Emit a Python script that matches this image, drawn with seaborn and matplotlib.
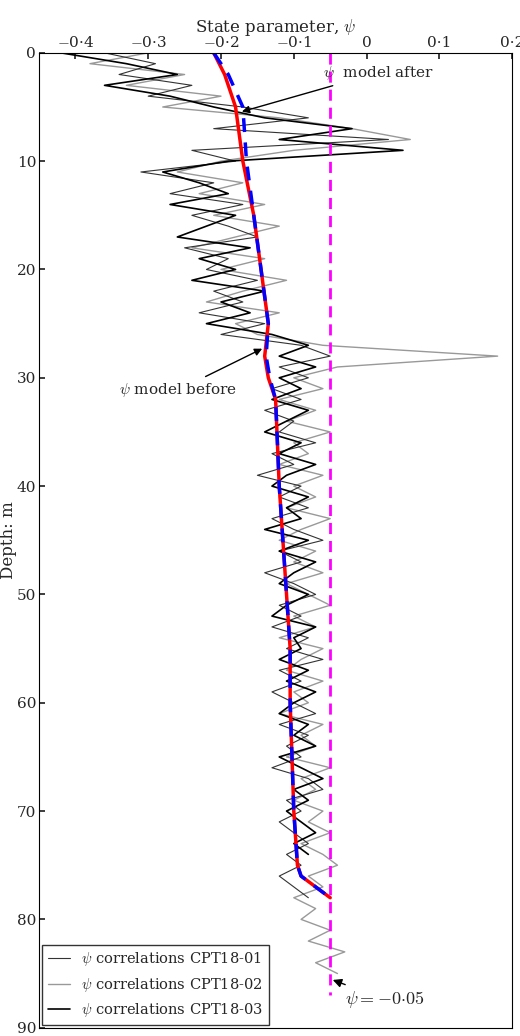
import numpy as np
import pandas as pd
import matplotlib
matplotlib.use("Agg")
import matplotlib.pyplot as plt
import seaborn as sns

sns.set_theme(style="white")
plt.rcParams['font.family'] = ['DejaVu Serif']
plt.rcParams['mathtext.fontset'] = 'cm'

cpt01 = [-0.36,-0.29,-0.34,-0.24,-0.30,-0.17,-0.08,-0.21,0.03,-0.24,-0.18,-0.31,-0.21,-0.27,-0.17,-0.24,-0.19,-0.15,-0.25,-0.19,
         -0.22,-0.15,-0.21,-0.17,-0.23,-0.14,-0.20,-0.09,-0.05,-0.12,-0.08,-0.13,-0.09,-0.14,-0.10,-0.12,-0.07,-0.13,-0.10,-0.15,
         -0.09,-0.12,-0.08,-0.13,-0.10,-0.06,-0.12,-0.09,-0.14,-0.10,-0.07,-0.12,-0.09,-0.13,-0.08,-0.11,-0.06,-0.12,-0.09,-0.13,
         -0.10,-0.07,-0.12,-0.08,-0.11,-0.09,-0.13,-0.08,-0.06,-0.11,-0.09,-0.12,-0.10,-0.08,-0.11,-0.09,-0.12,-0.10,-0.08]
cpt02 = [-0.30,-0.38,-0.25,-0.33,-0.20,-0.28,-0.12,-0.02,0.06,-0.10,-0.20,-0.26,-0.17,-0.23,-0.14,-0.21,-0.12,-0.18,-0.24,-0.14,
         -0.20,-0.11,-0.17,-0.22,-0.12,-0.18,-0.15,-0.06,0.18,-0.04,-0.10,-0.06,-0.12,-0.07,-0.11,-0.05,-0.10,-0.08,-0.12,-0.06,
         -0.10,-0.07,-0.11,-0.05,-0.09,-0.12,-0.07,-0.10,-0.06,-0.11,-0.08,-0.05,-0.10,-0.07,-0.12,-0.06,-0.09,-0.11,-0.06,-0.10,
         -0.08,-0.12,-0.06,-0.09,-0.07,-0.11,-0.05,-0.09,-0.07,-0.10,-0.06,-0.08,-0.05,-0.09,-0.06,-0.04,-0.08,-0.06,-0.10,-0.07,
         -0.09,-0.05,-0.08,-0.03,-0.07,-0.04]
cpt03 = [-0.42,-0.33,-0.26,-0.36,-0.27,-0.21,-0.14,-0.02,-0.12,0.05,-0.19,-0.28,-0.23,-0.19,-0.27,-0.18,-0.22,-0.26,-0.16,-0.23,
         -0.18,-0.24,-0.14,-0.20,-0.16,-0.22,-0.13,-0.08,-0.12,-0.07,-0.12,-0.09,-0.13,-0.08,-0.11,-0.14,-0.09,-0.12,-0.07,-0.11,
         -0.13,-0.08,-0.11,-0.09,-0.14,-0.08,-0.12,-0.07,-0.10,-0.12,-0.08,-0.11,-0.13,-0.07,-0.10,-0.09,-0.12,-0.08,-0.11,-0.07,
         -0.10,-0.12,-0.08,-0.10,-0.07,-0.12,-0.09,-0.06,-0.10,-0.08,-0.11,-0.09,-0.07,-0.10,-0.08]
model_depth  = [0, 2, 5, 10, 15, 20, 25, 28, 30, 32, 40, 45, 50, 55, 60, 70, 75, 76, 78]
model_before = [-0.21, -0.195, -0.18, -0.17, -0.155, -0.145, -0.135, -0.14, -0.135, -0.125, -0.12, -0.115, -0.11, -0.105, -0.105, -0.10, -0.095, -0.09, -0.05]
model_after  = [-0.21, -0.19, -0.17, -0.165, -0.155, -0.145, -0.135, -0.138, -0.133, -0.125, -0.12, -0.115, -0.11, -0.105, -0.105, -0.10, -0.095, -0.09, -0.05]
xticks = [-0.4, -0.3, -0.2, -0.1, 0, 0.1, 0.2]
xticklabels = ["$-$0·4", "$-$0·3", "$-$0·2", "$-$0·1", "0", "0·1", "0·2"]

fig = plt.figure(figsize=(5.2, 10.36), dpi=100)
ax = fig.add_axes([0.075, 0.008, 0.91, 0.941])

def df(v): return pd.DataFrame({"psi": v, "depth": np.arange(len(v)) * 1.0})
sns.lineplot(data=df(cpt02), x="psi", y="depth", sort=False, estimator=None, color="#999999", lw=1.0, ax=ax, label=r"$\psi$ correlations CPT18-02")
sns.lineplot(data=df(cpt01), x="psi", y="depth", sort=False, estimator=None, color="#333333", lw=0.8, ax=ax, label=r"$\psi$ correlations CPT18-01")
sns.lineplot(data=df(cpt03), x="psi", y="depth", sort=False, estimator=None, color="black", lw=1.2, ax=ax, label=r"$\psi$ correlations CPT18-03")
ax.plot(model_before, model_depth, color="red", lw=2.5)
ax.plot(model_after, model_depth, color="blue", lw=2.5, ls=(0, (4, 3)))
ax.plot([-0.05, -0.05], [0, 87], color="magenta", lw=2, ls=(0, (4, 2.5)))

h, l = ax.get_legend_handles_labels()
order = [1, 0, 2]
ax.legend([h[i] for i in order], [l[i] for i in order], loc="lower left", fontsize=10.5,
          frameon=True, fancybox=False, edgecolor="black", borderaxespad=0.2, handlelength=1.5)

ax.set_xlim(-0.45, 0.2)
ax.set_ylim(90, 0)
ax.xaxis.tick_top(); ax.xaxis.set_label_position("top")
ax.set_xticks(xticks); ax.set_xticklabels(xticklabels, fontsize=11)
ax.set_yticks(range(0, 91, 10)); ax.tick_params(labelsize=11, direction="in", length=4, pad=2)
ax.tick_params(axis="y", left=True); ax.tick_params(axis="x", top=True)
ax.set_xlabel(r"State parameter, $\psi$", fontsize=12, labelpad=2)
ax.set_ylabel("Depth: m", fontsize=12, labelpad=0)
for s in ax.spines.values(): s.set_color("black"); s.set_linewidth(0.8)

arr = dict(arrowstyle="-|>", color="black", lw=1)
ax.annotate(r"$\psi$  model after", xy=(-0.175, 5.5), xytext=(-0.06, 2.2), fontsize=11, arrowprops=arr)
ax.annotate(r"$\psi$ model before", xy=(-0.14, 27.2), xytext=(-0.34, 31.5), fontsize=11, arrowprops=arr)
ax.annotate(r"$\psi = -0{\cdot}05$", xy=(-0.05, 85.5), xytext=(-0.03, 87.8), fontsize=13, arrowprops=arr)
fig.savefig("out.png", dpi=100)
